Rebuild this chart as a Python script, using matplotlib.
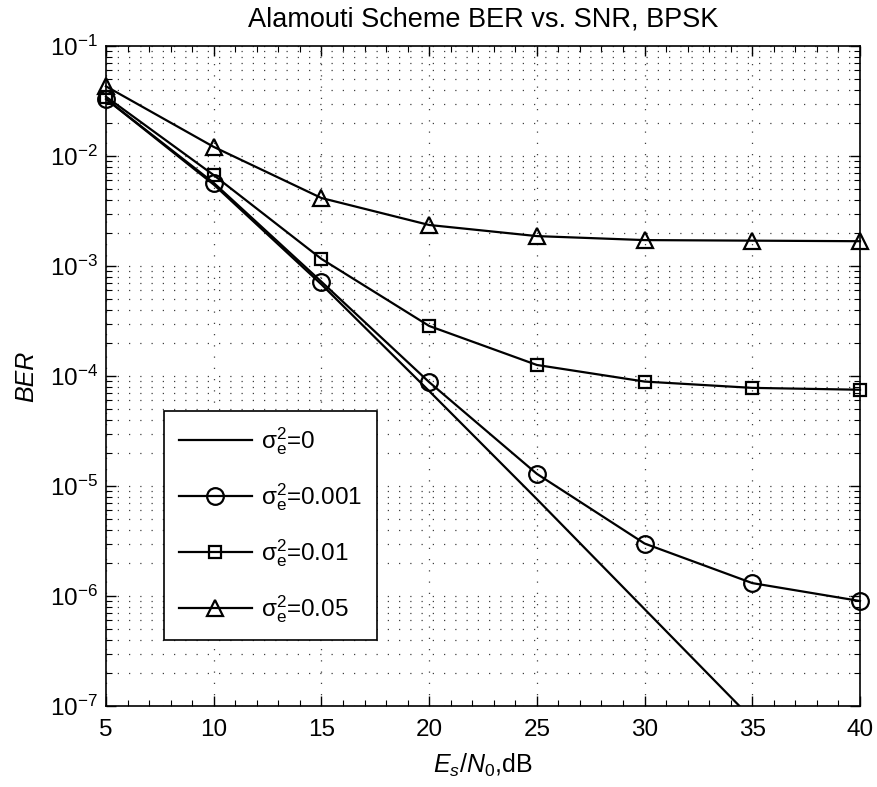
import matplotlib
matplotlib.use("Agg")
import matplotlib.pyplot as plt
import matplotlib.ticker as mticker
import numpy as np

# Values
snr_db = [5, 10, 15, 20, 25, 30, 35, 40]
ber_perfect = [0.033, 0.0055, 6.8e-4, 7.3e-5, 7.6e-6, 7.6e-7, 7.6e-8, 7.6e-9]
ber_001 = [0.033, 0.0057, 7.2e-4, 8.8e-5, 1.29e-5, 3.0e-6, 1.31e-6, 9.0e-7]
ber_01 = [0.0346, 0.0067, 1.16e-3, 2.85e-4, 1.26e-4, 8.9e-5, 7.8e-5, 7.5e-5]
ber_05 = [0.043, 0.0121, 4.15e-3, 2.36e-3, 1.87e-3, 1.72e-3, 1.70e-3, 1.68e-3]
labels = [r"$\mathrm{\sigma_e^2}$=0", r"$\mathrm{\sigma_e^2}$=0.001",
          r"$\mathrm{\sigma_e^2}$=0.01", r"$\mathrm{\sigma_e^2}$=0.05"]

plt.rcParams["font.family"] = ["Liberation Sans", "DejaVu Sans"]
plt.rcParams["mathtext.fontset"] = "custom"
plt.rcParams["mathtext.rm"] = "Liberation Sans"
plt.rcParams["mathtext.it"] = "Liberation Sans:italic"
plt.rcParams["mathtext.bf"] = "Liberation Sans:bold"

fig = plt.figure(figsize=(8.77, 7.87), dpi=100)
ax = fig.add_axes([106 / 877, 1 - 706 / 787, 754 / 877, 660 / 787])

series = [ber_perfect, ber_001, ber_01, ber_05]
markers = [None, "o", "s", "^"]
msizes = [0, 12, 9, 12]
for ber, mk, ms, lab in zip(series, markers, msizes, labels):
    # the theory curve runs off the bottom, the marked ones stay inside
    ax.semilogy(snr_db, ber, color="black", lw=1.6, marker=mk, markersize=ms,
                markerfacecolor="none", markeredgewidth=1.6, label=lab,
                clip_on=(mk is None))

ax.set_xlim(5, 40)
ax.set_ylim(1e-7, 1e-1)
ax.set_xticks(range(5, 41, 5))
ax.xaxis.set_minor_locator(mticker.MultipleLocator(1))
ax.yaxis.set_major_locator(mticker.LogLocator(base=10, numticks=10))
ax.yaxis.set_minor_locator(mticker.LogLocator(base=10, subs=np.arange(2, 10), numticks=20))
ax.yaxis.set_major_formatter(mticker.LogFormatterMathtext())
ax.yaxis.set_minor_formatter(mticker.NullFormatter())

ax.tick_params(which="both", direction="in", top=True, right=True, labelsize=17.5)
ax.tick_params(which="major", length=7, width=1)
ax.tick_params(which="minor", length=4, width=0.8)
ax.tick_params(axis="x", pad=9)
ax.tick_params(axis="y", pad=6)

ax.grid(which="major", axis="both", linestyle=(0, (1, 8)), color="0.25", lw=0.9)
ax.grid(which="minor", axis="y", linestyle=(0, (1, 8)), color="0.25", lw=0.9)
for s in ax.spines.values():
    s.set_linewidth(1.2)

ax.set_title("Alamouti Scheme BER vs. SNR, BPSK", fontsize=19.5, pad=14)
ax.set_xlabel(r"$E_s/N_0$,dB", fontsize=18, labelpad=8)
ax.set_ylabel("BER", fontsize=18, style="italic", labelpad=8)

leg = ax.legend(loc="lower left", bbox_to_anchor=(0.077, 0.1), borderaxespad=0,
                fontsize=17.5, fancybox=False, edgecolor="black", framealpha=1,
                handlelength=3.0, labelspacing=1.0, borderpad=0.6,
                handletextpad=0.4)
leg.get_frame().set_linewidth(1.2)

fig.savefig("out.png", dpi=100)
